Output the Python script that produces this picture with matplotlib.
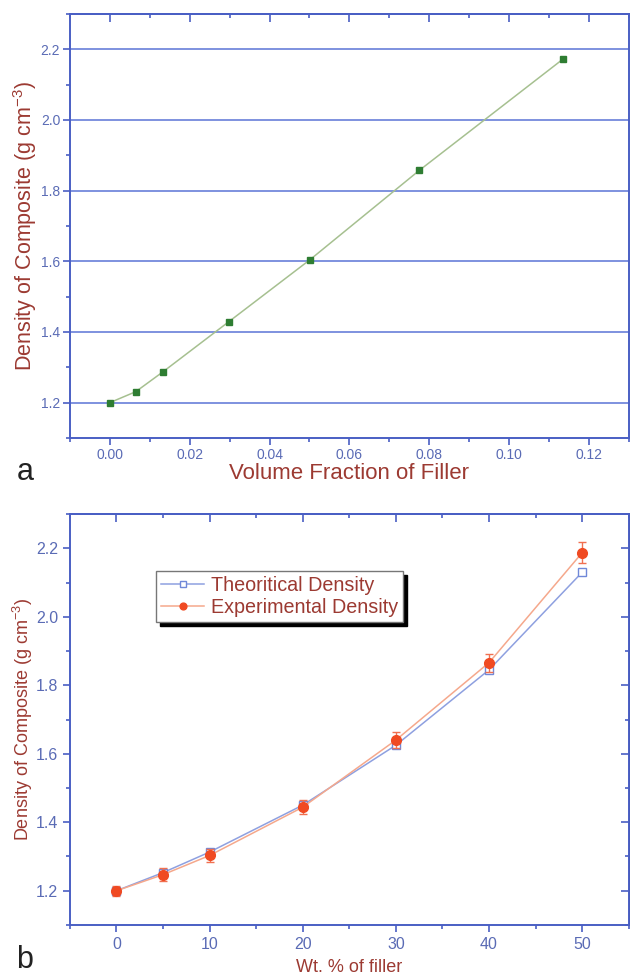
import matplotlib
matplotlib.use("Agg")
import matplotlib.pyplot as plt
from matplotlib.ticker import MultipleLocator

plt.rcParams["font.family"] = ["Liberation Sans", "DejaVu Sans"]
plt.rcParams["mathtext.fontset"] = "custom"
plt.rcParams["mathtext.rm"] = "Liberation Sans"

# panel a: density vs volume fraction
vol_frac = [0.0, 0.0065, 0.0134, 0.0298, 0.0502, 0.0775, 0.1135]
density_a = [1.200, 1.231, 1.288, 1.429, 1.605, 1.857, 2.172]

# panel b: density vs wt. % filler
wt_pct = [0, 5, 10, 20, 30, 40, 50]
theoretical = [1.200, 1.253, 1.313, 1.450, 1.625, 1.845, 2.130]
experimental = [1.200, 1.247, 1.303, 1.444, 1.640, 1.866, 2.187]
exp_err = [0.015, 0.02, 0.02, 0.02, 0.023, 0.026, 0.031]

AXIS_BLUE = "#4a5fc4"
TICK_TXT = "#5a6bb5"
LABEL_RED = "#9c3a32"

fig = plt.figure(figsize=(6.3, 9.75), dpi=100)


def style_axes(ax, xmajor, xminor, ymajor, yminor, tick_size, pad):
    for sp in ax.spines.values():
        sp.set_color(AXIS_BLUE)
        sp.set_linewidth(1.4)
    ax.xaxis.set_major_locator(MultipleLocator(xmajor))
    ax.xaxis.set_minor_locator(MultipleLocator(xminor))
    ax.yaxis.set_major_locator(MultipleLocator(ymajor))
    ax.yaxis.set_minor_locator(MultipleLocator(yminor))
    ax.tick_params(which="both", direction="out", color=AXIS_BLUE,
                   labelcolor=TICK_TXT, labelsize=tick_size, width=1.2,
                   pad=pad)
    ax.tick_params(which="major", length=5)
    ax.tick_params(which="minor", length=3)
    top = ax.secondary_xaxis("top")
    top.xaxis.set_major_locator(MultipleLocator(xmajor))
    top.xaxis.set_minor_locator(MultipleLocator(xminor))
    top.tick_params(which="both", direction="in", color=AXIS_BLUE,
                    labeltop=False, width=1.2)
    top.tick_params(which="major", length=6)
    top.tick_params(which="minor", length=3)
    top.spines["top"].set_color(AXIS_BLUE)
    top.spines["top"].set_linewidth(1.4)
    return top


# ---- panel a
ax1 = fig.add_axes([0.111, 0.5508, 0.887, 0.4349])
ax1.set_xlim(-0.01, 0.13)
ax1.set_ylim(1.1, 2.3)
style_axes(ax1, 0.02, 0.01, 0.2, 0.1, 10, 2)
ax1.xaxis.set_major_formatter(plt.FuncFormatter(lambda v, p: f"{v:.2f}"))
ax1.yaxis.set_major_formatter(plt.FuncFormatter(lambda v, p: f"{v:.1f}"))
for yv in [1.2, 1.4, 1.6, 1.8, 2.0, 2.2]:
    ax1.axhline(yv, color="#5b74d6", lw=1.1, zorder=0)
ax1.plot(vol_frac, density_a, color="#a6c090", lw=1.1, marker="s",
         markersize=4.5, markerfacecolor="#2e7d32", markeredgecolor="#2e7d32")
ax1.set_xlabel("Volume Fraction of Filler", color=LABEL_RED, fontsize=16,
               labelpad=1)
ax1.set_ylabel(r"Density of Composite (g cm$^{-3}$)", color=LABEL_RED,
               fontsize=15.5)
ax1.yaxis.set_label_coords(-0.055, 0.5)
fig.text(0.026, 1 - 480 / 975, "a", fontsize=22, color="#222222")

# ---- panel b
ax2 = fig.add_axes([0.111, 0.0513, 0.887, 0.4215])
ax2.set_xlim(-5, 55)
ax2.set_ylim(1.1, 2.3)
style_axes(ax2, 10, 5, 0.2, 0.1, 11.5, 3.5)
ax2.yaxis.set_major_formatter(plt.FuncFormatter(lambda v, p: f"{v:.1f}"))
right = ax2.secondary_yaxis("right")
right.yaxis.set_major_locator(MultipleLocator(0.2))
right.yaxis.set_minor_locator(MultipleLocator(0.1))
right.tick_params(which="both", direction="in", color=AXIS_BLUE,
                  labelright=False, width=1.2)
right.tick_params(which="major", length=6)
right.tick_params(which="minor", length=3)

ax2.plot(wt_pct, theoretical, color="#8ea0e0", lw=1.1, marker="s",
         markersize=6, markerfacecolor="white", markeredgecolor="#7088d8",
         label="Theoritical Density", zorder=3)
ax2.errorbar(wt_pct, experimental, yerr=exp_err, fmt="none",
             ecolor="#f07050", elinewidth=1, capsize=3, zorder=4)
ax2.plot(wt_pct, experimental, color="#f5a88c", lw=1.1, marker="o",
         markersize=7, markerfacecolor="#f04a22", markeredgecolor="#f04a22",
         label="Experimental Density", zorder=5)
ax2.set_xlabel("Wt. % of filler", color=LABEL_RED, fontsize=13, labelpad=5)
ax2.set_ylabel(r"Density of Composite (g cm$^{-3}$)", color=LABEL_RED,
               fontsize=13)
ax2.yaxis.set_label_coords(-0.062, 0.5)
leg = ax2.legend(loc="upper left", bbox_to_anchor=(0.154, 0.862),
                 fontsize=14.2, frameon=True, fancybox=False,
                 shadow={"color": "black", "alpha": 1.0, "ox": 3, "oy": -3},
                 borderpad=0.25, labelspacing=0.15, handlelength=2.2,
                 handletextpad=0.35, borderaxespad=0, markerscale=0.7)
leg.get_frame().set_edgecolor("#777777")
leg.get_frame().set_linewidth(1.0)
for t in leg.get_texts():
    t.set_color(LABEL_RED)
fig.text(0.026, 1 - 968 / 975, "b", fontsize=22, color="#222222")

fig.savefig("out.png", dpi=100)
